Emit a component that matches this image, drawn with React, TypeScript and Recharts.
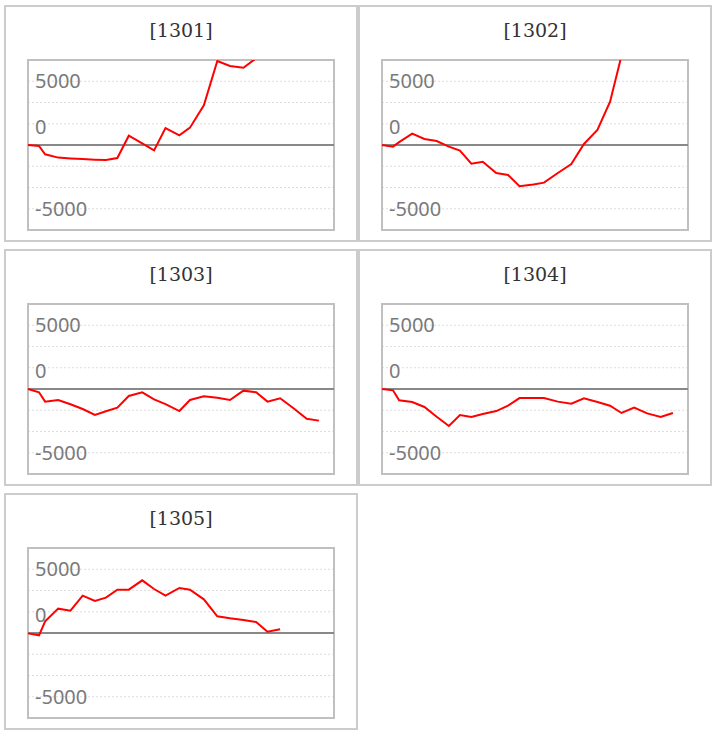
import React from 'react'
import { LineChart, Line, XAxis, YAxis, CartesianGrid, ReferenceLine, ReferenceArea } from 'recharts'

// trading dates as day offsets from the first record
const days = [0, 27, 42, 74, 104, 134, 164, 191, 219, 247, 280, 309, 337, 371, 397, 431, 464, 495, 528, 559, 587, 618, 650, 683, 713]

const codes = ['1301', '1302', '1303', '1304', '1305']

const values1301 = [0, -80, -730, -990, -1050, -1100, -1150, -1180, -1020, 730, 130, -420, 1330, 760, 1360, 3110, 6590, 6200, 6060, 6800, 7800, 8600, 9300, 9900, 10400]
const values1302 = [0, -130, 220, 890, 470, 310, -130, -440, -1460, -1310, -2200, -2350, -3240, -3090, -2950, -2200, -1490, 80, 1180, 3400, 7000, 9000, 10500, 11500, 12000]
const values1303 = [0, -260, -990, -860, -1200, -1570, -2040, -1750, -1460, -550, -260, -810, -1180, -1730, -860, -575, -680, -860, -130, -260, -990, -730, -1490, -2330, -2480]
const values1304 = [0, -105, -890, -1020, -1410, -2170, -2900, -2040, -2200, -1960, -1730, -1310, -710, -710, -710, -990, -1150, -730, -1020, -1310, -1880, -1460, -1910, -2200, -1880]
const values1305 = [-30, -180, 915, 1910, 1750, 2930, 2510, 2770, 3400, 3400, 4130, 3450, 2930, 3530, 3400, 2640, 1310, 1150, 1020, 860, 105, 290]

const seriesList = [values1301, values1302, values1303, values1304, values1305]

const yTickLabels = [5000, 0, -5000]

const X_MAX = 750
const Y_MAX = 20000 / 3
const gridTicks = [-4, -3, -2, -1, 0, 1, 2, 3, 4].map((k) => (k * Y_MAX) / 4)

const PANEL_W = 354
const PANEL_H = 237
const CHART_W = PANEL_W - 4
const CHART_H = PANEL_H - 4
const MARGIN = { top: 53, right: 22, bottom: 10, left: 22 }

function YTick(props: any) {
  const { y, payload } = props
  const v = payload.value
  const label = yTickLabels.find((t) => Math.abs(t - v) < 1)
  if (label === undefined) return <g />
  const lift = label === 0 ? -18 : 0
  return (
    <text
      x={MARGIN.left + 7}
      y={y + lift}
      dy="0.35em"
      textAnchor="start"
      fill="#7a7a7a"
      style={{ fontSize: '20px', fontFamily: "'Noto Sans', 'Open Sans', sans-serif" }}
    >
      {label}
    </text>
  )
}

function Panel({ code, values }: { code: string; values: number[] }) {
  const data = days.map((d, i) => ({ day: d, value: i < values.length ? values[i] : null }))
  return (
    <div
      style={{
        position: 'relative',
        width: PANEL_W,
        height: PANEL_H,
        boxSizing: 'border-box',
        border: '2px solid #cccccc',
        background: '#fff',
      }}
    >
      <div
        style={{
          position: 'absolute',
          top: 12,
          left: 0,
          width: '100%',
          textAlign: 'center',
          fontFamily: "'DejaVu Serif', serif",
          fontSize: 19,
          lineHeight: '22px',
          color: '#333',
        }}
      >
        [{code}]
      </div>
      <LineChart width={CHART_W} height={CHART_H} data={data} margin={MARGIN}>
        <CartesianGrid vertical={false} stroke="#dddddd" strokeDasharray="2 2" />
        <XAxis dataKey="day" type="number" domain={[0, X_MAX]} hide />
        <YAxis
          type="number"
          domain={[-Y_MAX, Y_MAX]}
          ticks={gridTicks}
          allowDataOverflow
          mirror
          width={60}
          axisLine={false}
          tickLine={false}
          tick={(p: any) => <YTick {...p} />}
          interval={0}
        />
        <ReferenceArea x1={0} x2={X_MAX} y1={-Y_MAX} y2={Y_MAX} fill="none" stroke="#c0c0c0" strokeWidth={2} />
        <ReferenceLine y={0} stroke="#888888" strokeWidth={2} />
        <Line
          type="linear"
          dataKey="value"
          stroke="#ff0000"
          strokeWidth={2}
          dot={false}
          activeDot={false}
          isAnimationActive={false}
        />
      </LineChart>
    </div>
  )
}

export default function App() {
  return (
    <div
      style={{
        position: 'absolute',
        left: 4,
        top: 5,
        width: PANEL_W * 2,
        display: 'flex',
        flexWrap: 'wrap',
        rowGap: 7,
      }}
    >
      {codes.map((c, i) => (
        <Panel key={c} code={c} values={seriesList[i]} />
      ))}
    </div>
  )
}
